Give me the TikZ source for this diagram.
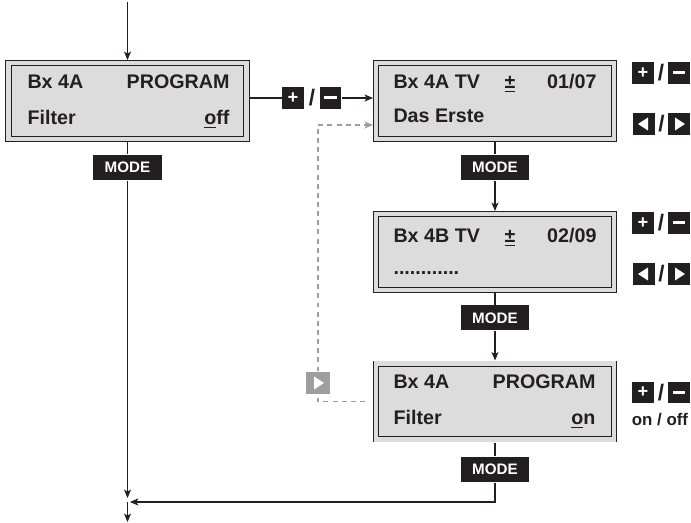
\documentclass[tikz,border=0pt]{standalone}
\usepackage{fontspec}
\setmainfont{Liberation Sans}
\usepackage{tikz}
\usetikzlibrary{arrows.meta,calc,positioning}

\definecolor{lcdgray}{HTML}{DCDCDC}
\definecolor{inkblack}{HTML}{231F20}
\definecolor{dashgray}{HTML}{9E9E9E}

\begin{document}
\begin{tikzpicture}[x=0.025cm, y=-0.025cm, color=inkblack, line width=0.75pt,
    >={Stealth[length=6pt,width=5pt,inset=1.5pt]},
    lcd/.style={draw, double=lcdgray, double distance=0.11cm, fill=lcdgray,
      line width=0.7pt, minimum width=5.94cm, minimum height=1.89cm,
      inner sep=0pt, outer sep=0.08cm},
    lcdtxt/.style={font=\fontsize{14}{16}\selectfont\bfseries, inner sep=0pt},
    mode/.style={fill=inkblack, text=white, font=\fontsize{10.8}{12}\selectfont\bfseries,
      minimum width=1.7cm, minimum height=0.625cm, inner sep=0pt},
    key/.style={fill=inkblack, text=white, font=\fontsize{13}{13}\selectfont\bfseries,
      minimum width=0.53cm, minimum height=0.53cm, inner sep=0pt},
    slash/.style={font=\fontsize{16}{16}\selectfont\bfseries, inner sep=0pt},
    dashline/.style={dashgray, dash pattern=on 3.5pt off 3pt},
    playtri/.pic={\fill[white] (-4,-6.5) -- (6,0) -- (-4,6.5) -- cycle;},
    backtri/.pic={\fill[white] (4,-6.5) -- (-6,0) -- (4,6.5) -- cycle;}]

  \useasboundingbox (0,0) rectangle (691,523);

  % Displays
  \node[lcd] (lcd1) at (127.5,101) {};
  \node[lcd] (lcd2) at (495,101) {};
  \node[lcd] (lcd3) at (495,252) {};
  \node[lcd] (lcd4) at (495,401.5) {};

  % Display texts
  \node[lcdtxt, anchor=base west] (t1a) at (27,89) {Bx 4A};
  \node[lcdtxt, anchor=base east] (t1b) at (230,89) {PROGRAM};
  \node[lcdtxt, anchor=base west] (t1c) at (27,125) {Filter};
  \node[lcdtxt, anchor=base east] (t1d) at (230,125) {\underline{o}ff};

  \node[lcdtxt, anchor=base west] (t2a) at (393,89) {Bx 4A TV};
  \node[lcdtxt, anchor=base] (t2b) at (510,89) {\underline{±}};
  \node[lcdtxt, anchor=base east] (t2c) at (597,89) {01/07};
  \node[lcdtxt, anchor=base west] (t2d) at (393,123) {Das Erste};

  \node[lcdtxt, anchor=base west] (t3a) at (393,243) {Bx 4B TV};
  \node[lcdtxt, anchor=base] (t3b) at (510,243) {\underline{±}};
  \node[lcdtxt, anchor=base east] (t3c) at (597,243) {02/09};
  \node[lcdtxt, anchor=base west] (t3d) at (393,275) {............};

  \node[lcdtxt, anchor=base west] (t4a) at (393,389) {Bx 4A};
  \node[lcdtxt, anchor=base east] (t4b) at (596,389) {PROGRAM};
  \node[lcdtxt, anchor=base west] (t4c) at (393,425) {Filter};
  \node[lcdtxt, anchor=base east] (t4d) at (596,425) {\underline{o}n};

  % MODE keys
  \node[mode] (mode1) at (127.5,167.5) {MODE};
  \node[mode] (mode2) at (495,167.5) {MODE};
  \node[mode] (mode3) at (495,318) {MODE};
  \node[mode] (mode4) at (495,469.5) {MODE};

  % +/- between first and second display
  \node[key] (kp1) at (293,98) {+};
  \node[slash] (sl1) at (312,98) {/};
  \node[key] (km1) at (330.5,98) {\rule{0.32cm}{0.075cm}};

  % Keys beside the displays
  \node[key] (kp2) at (643,73) {+};
  \node[slash] (sl2) at (661,73) {/};
  \node[key] (km2) at (679,73) {\rule{0.32cm}{0.075cm}};
  \node[key] (kl2) at (644,124) {};
  \node[slash] (sl2b) at (661.5,124) {/};
  \node[key] (kr2) at (679,124) {};
  \pic at (kl2) {backtri};
  \pic at (kr2) {playtri};

  \node[key] (kp3) at (643,223) {+};
  \node[slash] (sl3) at (661,223) {/};
  \node[key] (km3) at (679,223) {\rule{0.32cm}{0.075cm}};
  \node[key] (kl3) at (644,274) {};
  \node[slash] (sl3b) at (661.5,274) {/};
  \node[key] (kr3) at (679,274) {};
  \pic at (kl3) {backtri};
  \pic at (kr3) {playtri};

  \node[key] (kp4) at (643,392.5) {+};
  \node[slash] (sl4) at (661,392.5) {/};
  \node[key] (km4) at (679,392.5) {\rule{0.32cm}{0.075cm}};
  \node[font=\fontsize{12}{14}\selectfont\bfseries, inner sep=0pt, anchor=base]
    (onoff) at (660,426) {on / off};

  % grey key on the dashed return
  \node[key, fill=dashgray, minimum width=0.6cm, minimum height=0.55cm] (gk) at (318,383) {};
  \pic at (gk) {playtri};

  % Connectors
  \coordinate (entry) at (127.5,2);
  \coordinate (merge) at (127.5,502);
  \coordinate (exit) at (127.5,522);

  \draw[->] (entry) -- (lcd1);
  \draw (lcd1.east |- kp1) -- (kp1);
  \draw[->] (km1) -- (km1 -| lcd2.west);
  \draw (lcd1) -- (mode1);
  \draw[->] (mode1) -- ([yshift=0.1cm]merge);
  \draw[->] (merge) -- (exit);

  \draw (lcd2) -- (mode2);
  \draw[->] (mode2) -- (lcd3);
  \draw (lcd3) -- (mode3);
  \draw[->] (mode3) -- (lcd4);
  \draw (lcd4) -- (mode4);
  \draw[->] (mode4) |- ([xshift=0.06cm]merge);

  % dashed return path
  \draw[dashline] ([xshift=-0.2cm]lcd4.west) -| (gk);
  \draw[dashline,->] (gk) |- ([yshift=-0.6cm]lcd2.west);
\end{tikzpicture}
\end{document}
